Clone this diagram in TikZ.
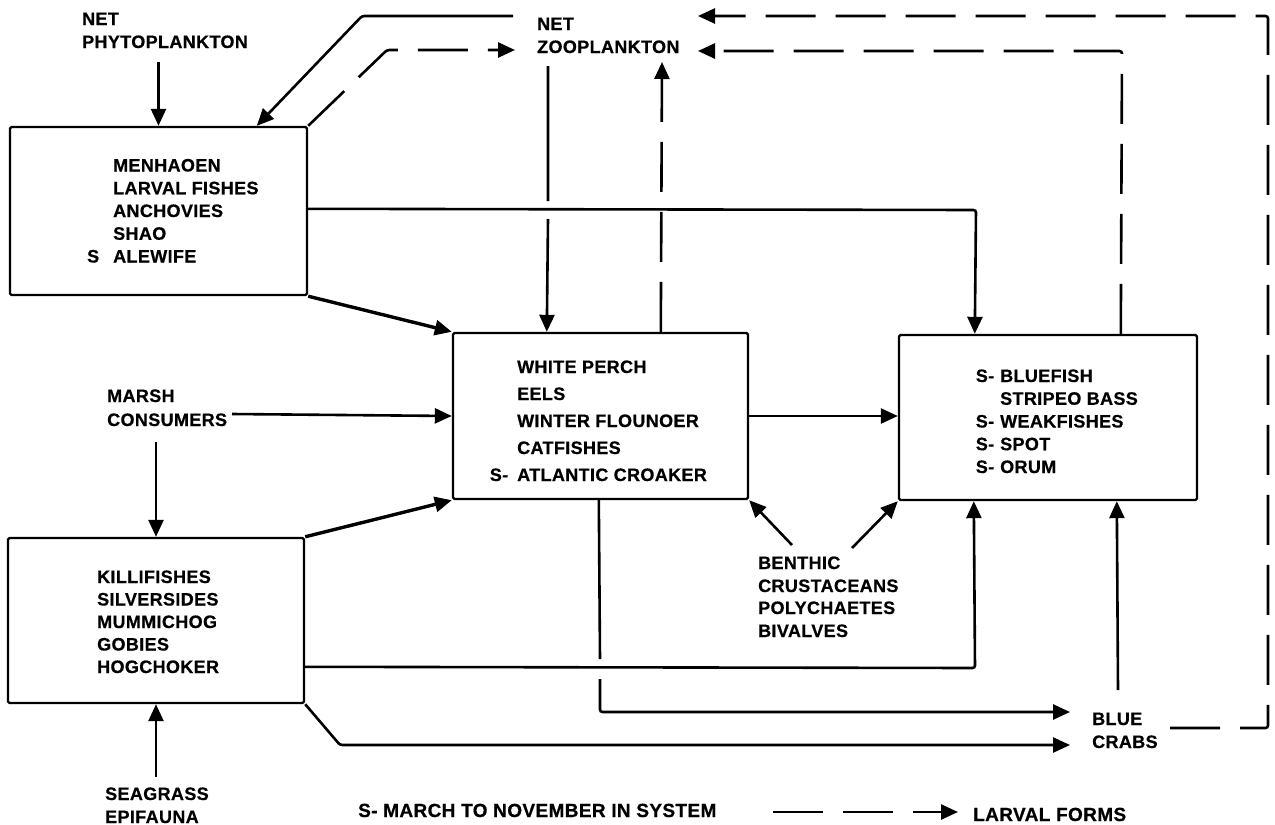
\documentclass[tikz,border=0pt]{standalone}
\usepackage{fontspec}
\setmainfont{Liberation Sans}[LetterSpace=2,BoldFeatures={FakeBold=0.6}]
\usetikzlibrary{arrows.meta,calc}
\begin{document}
\begin{tikzpicture}[x=1pt,y=-1pt,
  box/.style={draw,line width=2.4pt,inner sep=0pt,rounded corners=1.5pt},
  lbl/.style={inner sep=0pt,anchor=base west,font=\fontsize{18}{22}\selectfont\bfseries},
  leg/.style={inner sep=0pt,anchor=base west,font=\fontsize{19}{23}\selectfont\bfseries},
  conn/.style={line width=2.6pt,rounded corners=2.5pt,-{Triangle[length=17pt,width=15pt]}},
  heavy/.style={conn,line width=3.4pt},
  larva/.style={conn,dash pattern=on 50pt off 20pt},
]
\path[use as bounding box,fill=white] (0,0) rectangle (1275,825);

% boxes
\node[box,minimum width=297pt,minimum height=168pt] (A) at (158.5,211) {};
\node[box,minimum width=295pt,minimum height=166pt] (B) at (600.5,416) {};
\node[box,minimum width=298pt,minimum height=165pt] (C) at (1048,417.5) {};
\node[box,minimum width=296pt,minimum height=165pt] (D) at (156,620.5) {};

% box contents
\foreach \t [count=\i from 0] in {MENHAOEN,LARVAL FISHES,ANCHOVIES,SHAO,\llap{S\hspace{14pt}}ALEWIFE}
  \node[lbl] (a\i) at (113,171.5+22.75*\i) {\t};
\foreach \t [count=\i from 0] in {WHITE PERCH,EELS,WINTER FLOUNOER,CATFISHES,\llap{S-\hspace{9pt}}ATLANTIC CROAKER}
  \node[lbl] (b\i) at (517,373+27*\i) {\t};
\foreach \t [count=\i from 0] in {\llap{S-\hspace{6pt}}BLUEFISH,STRIPEO BASS,\llap{S-\hspace{6pt}}WEAKFISHES,\llap{S-\hspace{6pt}}SPOT,\llap{S-\hspace{6pt}}ORUM}
  \node[lbl] (c\i) at (1000,382+22.75*\i) {\t};
\foreach \t [count=\i from 0] in {KILLIFISHES,SILVERSIDES,MUMMICHOG,GOBIES,HOGCHOKER}
  \node[lbl] (d\i) at (97,583+22.5*\i) {\t};

% outer labels
\node[lbl] (phy1) at (82,25) {NET};
\node[lbl] (phy2) at (82,48) {PHYTOPLANKTON};
\node[lbl] (zoo1) at (537,30) {NET};
\node[lbl] (zoo2) at (537,53) {ZOOPLANKTON};
\node[lbl] (mar1) at (107,402) {MARSH};
\node[lbl] (mar2) at (107,426) {CONSUMERS};
\node[lbl] (sea1) at (105,800) {SEAGRASS};
\node[lbl] (sea2) at (105,823) {EPIFAUNA};
\node[lbl] (ben1) at (758,569) {BENTHIC};
\node[lbl] (ben2) at (758,592) {CRUSTACEANS};
\node[lbl] (ben3) at (758,614) {POLYCHAETES};
\node[lbl] (ben4) at (758,637) {BIVALVES};
\node[lbl] (crab1) at (1092,725) {BLUE};
\node[lbl] (crab2) at (1092,748) {CRABS};
\node[leg] (leg1) at (358,817) {S- MARCH TO NOVEMBER IN SYSTEM};
\node[leg] (leg2) at (973,821) {LARVAL FORMS};

% connector ends
\coordinate (phS) at (158.5,62);
\coordinate (zooW) at (513,16);
\coordinate (zooWd) at (515,50);
\coordinate (zooS1) at (548,66);
\coordinate (zooS2) at (662,62);
\coordinate (zooE1) at (698,16);
\coordinate (zooE2) at (698,51);
\coordinate (marE) at (232,414);
\coordinate (marS) at (156,442);
\coordinate (seaN) at (156,777);
\coordinate (benL) at (792,545);
\coordinate (benR) at (852,548);
\coordinate (crabW1) at (1070,712);
\coordinate (crabW2) at (1070,745);
\coordinate (crabN) at (1118,690);
\coordinate (crabE) at (1170,728);
\coordinate (legS) at (773,812);
\coordinate (legE) at (958,812);

% connectors
\draw[conn] (phS) -- (A.north);
\draw[conn] (zooW) -- (362,16) -- ($(A.north west)+(248,0)$);
\draw[larva] (A.north east) -- (387,50) -- (zooWd);
\draw[conn] (zooS1) -- (548,201) (548,219) -- ($(B.north west)+(95,0)$);
\draw[larva] ($(B.north west)+(209,0)$) -- (zooS2);
\draw[conn] ($(A.north east)+(0,83)$) -- (976,210) -- ($(C.north west)+(77,0)$);
\draw[heavy] (A.south east) -- (B.north west);
\draw[larva] ($(C.north west)+(223,0)$) -- (1122,51) -- (zooE2);
\draw[larva] (crabE) -- (1268,728) -- (1268,16) -- (zooE1);
\draw[conn] (marE) -- (B.west);
\draw[conn] (marS) -- (D.north);
\draw[heavy] (D.north east) -- (B.south west);
\draw[conn] ($(D.north east)+(0,130)$) -- (975,668) -- ($(C.south west)+(76,0)$);
\draw[conn] (D.south east) -- (340,745) -- (crabW2);
\draw[conn] ($(B.south west)+(147,0)$) -- (600,659) (600,679) -- (600,712) -- (crabW1);
\draw[conn] (benL) -- (B.south east);
\draw[conn] (benR) -- (C.south west);
\draw[conn] (B.east) -- (B.east -| C.west);
\draw[conn] (crabN) -- ($(C.south west)+(219,0)$);
\draw[conn] (seaN) -- (D.south);
\draw[larva] (legS) -- (legE);
\end{tikzpicture}
\end{document}
